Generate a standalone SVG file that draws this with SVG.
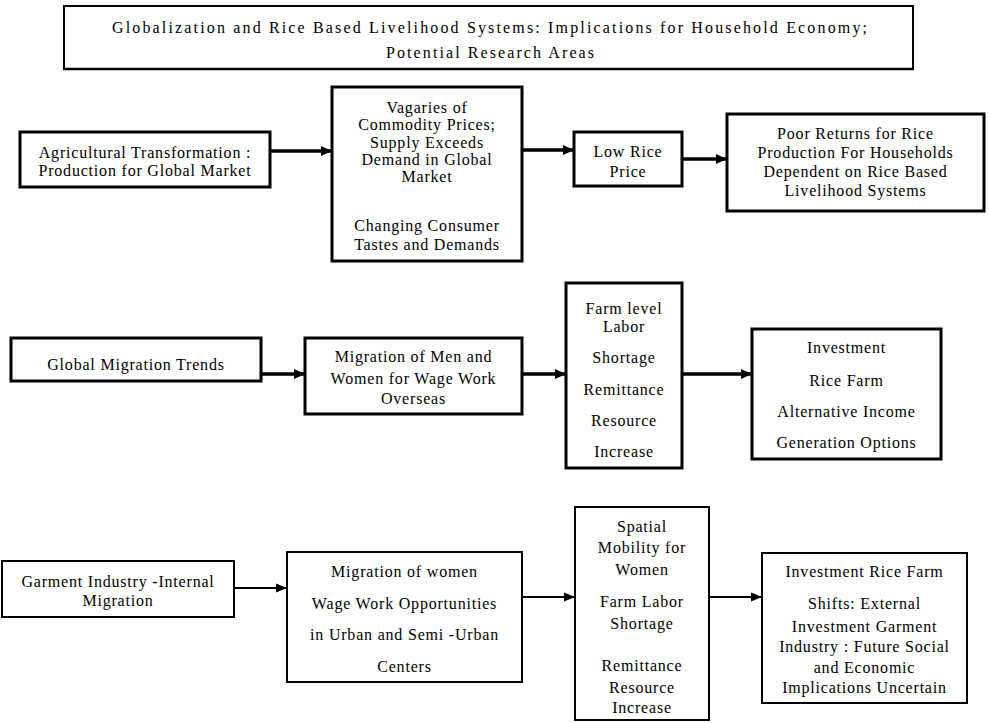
<svg xmlns="http://www.w3.org/2000/svg" width="989" height="723" viewBox="0 0 989 723">
  <style>
    text { font-family: "Liberation Serif", "Times New Roman", serif; font-size: 16px; fill: #000; text-anchor: middle; letter-spacing: 0.8px; }
    .title { letter-spacing: 0; }
    .box { fill: #fff; stroke: #000; stroke-width: 3; }
    .box-thin { fill: #fff; stroke: #000; stroke-width: 2; }
    .flow { stroke: #000; stroke-width: 3.5; fill: none; marker-end: url(#head); }
    .flow-thin { stroke: #000; stroke-width: 2; fill: none; marker-end: url(#head-thin); }
  </style>
  <defs>
    <marker id="head" markerUnits="userSpaceOnUse" markerWidth="12" markerHeight="12" viewBox="0 0 12 12" refX="11" refY="6" orient="auto">
      <path d="M0,1 L11,6 L0,11 Z" fill="#000"/>
    </marker>
    <marker id="head-thin" markerUnits="userSpaceOnUse" markerWidth="12" markerHeight="12" viewBox="0 0 12 12" refX="11" refY="6" orient="auto">
      <path d="M0,1.5 L11,6 L0,10.5 Z" fill="#000"/>
    </marker>
  </defs>
  <rect width="989" height="723" fill="#fff"/>

  <!-- heading -->
  <g id="title">
    <rect x="64" y="6" width="849" height="63" fill="#fff" stroke="#000" stroke-width="2"/>
    <line x1="63" y1="69" x2="914" y2="69" stroke="#000" stroke-width="2.5"/>
    <text class="title" x="489.5" y="33" textLength="755" lengthAdjust="spacing">Globalization and Rice Based Livelihood Systems:  Implications for Household Economy;</text>
    <text class="title" x="490" y="58" textLength="208" lengthAdjust="spacing">Potential Research Areas</text>
  </g>

  <!-- connectors -->
  <g id="connectors">
    <line class="flow" x1="270" y1="151" x2="332" y2="151"/>
    <line class="flow" x1="522" y1="150" x2="574" y2="150"/>
    <line class="flow" x1="682" y1="159" x2="727" y2="159"/>
    <line class="flow" x1="261" y1="374" x2="305" y2="374"/>
    <line class="flow" x1="522" y1="374" x2="566" y2="374"/>
    <line class="flow" x1="682" y1="374" x2="752" y2="374"/>
    <line class="flow-thin" x1="234" y1="588" x2="287" y2="588"/>
    <line class="flow-thin" x1="522" y1="597" x2="575" y2="597"/>
    <line class="flow-thin" x1="709" y1="597" x2="762" y2="597"/>
  </g>

  <!-- row 1 -->
  <g id="agri-transformation">
    <rect class="box" x="20" y="132" width="250" height="55"/>
    <text x="145" y="158">Agricultural Transformation :</text>
    <text x="145" y="176">Production for Global Market</text>
  </g>
  <g id="commodity-prices">
    <rect class="box" x="332" y="87" width="190" height="174"/>
    <text x="427" y="113">Vagaries of</text>
    <text x="427" y="130">Commodity Prices;</text>
    <text x="427" y="147.5">Supply Exceeds</text>
    <text x="427" y="165">Demand in Global</text>
    <text x="427" y="182">Market</text>
    <text x="427" y="231">Changing Consumer</text>
    <text x="427" y="250">Tastes and Demands</text>
  </g>
  <g id="low-rice-price">
    <rect class="box" x="574" y="132" width="108" height="54"/>
    <text x="628" y="157">Low Rice</text>
    <text x="628" y="176.5">Price</text>
  </g>
  <g id="poor-returns">
    <rect class="box" x="727" y="114" width="257" height="97"/>
    <text x="855.5" y="138.5">Poor Returns for Rice</text>
    <text x="855.5" y="157.5">Production  For Households</text>
    <text x="855.5" y="177">Dependent on Rice Based</text>
    <text x="855.5" y="195.5">Livelihood  Systems</text>
  </g>

  <!-- row 2 -->
  <g id="global-migration">
    <rect class="box" x="11" y="338" width="250" height="43"/>
    <text x="136" y="370">Global Migration Trends</text>
  </g>
  <g id="overseas-migration">
    <rect class="box" x="305" y="338" width="217" height="76"/>
    <text x="413.5" y="362">Migration of Men and</text>
    <text x="413.5" y="384">Women for Wage Work</text>
    <text x="413.5" y="404">Overseas</text>
  </g>
  <g id="labor-shortage">
    <rect class="box" x="566" y="283" width="116" height="185"/>
    <text x="624" y="314">Farm level</text>
    <text x="624" y="332">Labor</text>
    <text x="624" y="363">Shortage</text>
    <text x="624" y="395">Remittance</text>
    <text x="624" y="426">Resource</text>
    <text x="624" y="457">Increase</text>
  </g>
  <g id="investment-options">
    <rect class="box" x="752" y="329" width="189" height="130"/>
    <text x="846.5" y="353">Investment</text>
    <text x="846.5" y="386">Rice Farm</text>
    <text x="846.5" y="417">Alternative Income</text>
    <text x="846.5" y="448">Generation Options</text>
  </g>

  <!-- row 3 -->
  <g id="garment-industry">
    <rect class="box-thin" x="2" y="561" width="232" height="56"/>
    <text x="118" y="587">Garment Industry -Internal</text>
    <text x="118" y="606">Migration</text>
  </g>
  <g id="women-migration">
    <rect class="box-thin" x="287" y="552" width="235" height="130"/>
    <text x="404.5" y="577">Migration of women</text>
    <text x="404.5" y="609">Wage Work Opportunities</text>
    <text x="404.5" y="640">in Urban and Semi -Urban</text>
    <text x="404.5" y="672">Centers</text>
  </g>
  <g id="spatial-mobility">
    <rect class="box-thin" x="575" y="507" width="134" height="213"/>
    <text x="642" y="532">Spatial</text>
    <text x="642" y="553">Mobility for</text>
    <text x="642" y="575">Women</text>
    <text x="642" y="607">Farm Labor</text>
    <text x="642" y="629">Shortage</text>
    <text x="642" y="671">Remittance</text>
    <text x="642" y="693">Resource</text>
    <text x="642" y="713">Increase</text>
  </g>
  <g id="future-implications">
    <rect class="box-thin" x="762" y="553" width="205" height="150"/>
    <text x="864.5" y="577">Investment Rice Farm</text>
    <text x="864.5" y="609">Shifts: External</text>
    <text x="864.5" y="632">Investment Garment</text>
    <text x="864.5" y="652">Industry : Future Social</text>
    <text x="864.5" y="673">and Economic</text>
    <text x="864.5" y="693">Implications Uncertain</text>
  </g>
</svg>
